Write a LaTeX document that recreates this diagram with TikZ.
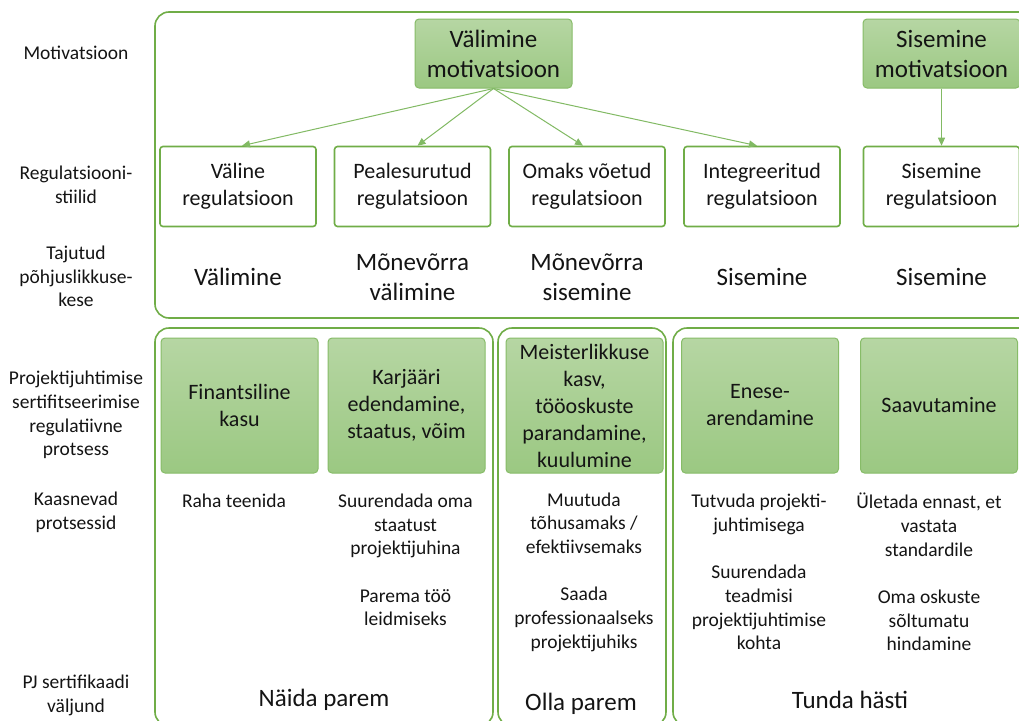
\documentclass[tikz,border=0pt]{standalone}
\usepackage{fontspec}
\setmainfont{Carlito}
\usetikzlibrary{arrows.meta}
\definecolor{gborder}{RGB}{112,173,71}
\definecolor{gtop}{RGB}{182,214,163}
\definecolor{gbot}{RGB}{155,200,130}
\definecolor{gbox}{RGB}{135,188,104}
\definecolor{garrow}{RGB}{130,186,100}
\definecolor{txt}{RGB}{20,20,20}
\begin{document}
\begin{tikzpicture}[x=1pt,y=-1pt,
  container/.style={draw=gborder, line width=1.6pt, rounded corners=14pt},
  regbox/.style={draw=gborder, line width=1.6pt, rounded corners=3pt, fill=white,
    minimum width=156pt, minimum height=80pt, inner sep=0pt, align=center,
    text=txt, font=\fontsize{22}{27}\selectfont},
  greenbox/.style={draw=gbox, line width=1pt, rounded corners=4pt, top color=gtop, bottom color=gbot,
    inner sep=0pt, align=center, text=txt},
  topgreen/.style={greenbox, minimum width=157pt, minimum height=69pt, font=\fontsize{25}{30}\selectfont},
  botgreen/.style={greenbox, minimum width=157pt, minimum height=135pt, font=\fontsize{22}{27}\selectfont},
  perc/.style={align=center, text=txt, inner sep=0pt, font=\fontsize{25}{30}\selectfont},
  body/.style={align=center, text=txt, inner sep=0pt, font=\fontsize{19.5}{23.7}\selectfont},
  sidelabel/.style={align=center, text=txt, inner sep=0pt, font=\fontsize{19.5}{23.7}\selectfont},
  outcome/.style={align=center, text=txt, inner sep=0pt, font=\fontsize{25}{30}\selectfont},
  conn/.style={draw=garrow, line width=1pt, -{Triangle[length=8pt,width=7pt]}}
]
\useasboundingbox (0,0) rectangle (1019,720);
\clip (0,0) rectangle (1019,720);
\fill[white] (0,0) rectangle (1019,720);

% containers
\draw[container] (155,12) rectangle (1040,318);
\draw[container] (155,328) rectangle (493,726);
\draw[container] (498,328) rectangle (666,726);
\draw[container] (673,328) rectangle (1040,726);

% side labels
\node[sidelabel] (l1) at (76,53) {Motivatsioon};
\node[sidelabel] (l2) at (76,185) {Regulatsiooni-\\stiilid};
\node[sidelabel] (l3) at (76,276.5) {Tajutud\\põhjuslikkuse-\\kese};
\node[sidelabel] (l4) at (76,415) {Projektijuhtimise\\sertifitseerimise\\regulatiivne\\protsess};
\node[sidelabel] (l5) at (76,512) {Kaasnevad\\protsessid};
\node[sidelabel] (l6) at (76,695.5) {PJ sertifikaadi\\väljund};

% motivation boxes
\node[topgreen] (vm) at (493.5,53.5) {Välimine\\motivatsioon};
\node[topgreen] (sm) at (941.5,53.5) {Sisemine\\motivatsioon};

% regulation boxes
\node[regbox] (r1) at (238,186.5) {Väline\\regulatsioon};
\node[regbox] (r2) at (412.5,186.5) {Pealesurutud\\regulatsioon};
\node[regbox] (r3) at (587,186.5) {Omaks võetud\\regulatsioon};
\node[regbox] (r4) at (762,186.5) {Integreeritud\\regulatsioon};
\node[regbox] (r5) at (941.5,186.5) {Sisemine\\regulatsioon};

% arrows
\draw[conn] (vm.south) -- ([xshift=4pt]r1.north);
\draw[conn] (vm.south) -- ([xshift=5pt]r2.north);
\draw[conn] (vm.south) -- ([xshift=-4pt]r3.north);
\draw[conn] (vm.south) -- ([xshift=-5pt]r4.north);
\draw[conn] (sm.south) -- (r5.north);

% perceived locus
\node[perc] (p1) at (238,277) {Välimine};
\node[perc] (p2) at (412.5,277) {Mõnevõrra\\välimine};
\node[perc] (p3) at (587,277) {Mõnevõrra\\sisemine};
\node[perc] (p4) at (762,277) {Sisemine};
\node[perc] (p5) at (941.5,277) {Sisemine};

% regulative process boxes
\node[botgreen] (g1) at (239.5,405.5) {Finantsiline\\kasu};
\node[botgreen] (g2) at (406.5,405.5) {Karjääri\\edendamine,\\staatus, võim};
\node[botgreen] (g3) at (584.5,405.5) {Meisterlikkuse\\kasv,\\tööoskuste\\parandamine,\\kuulumine};
\node[botgreen] (g4) at (760,405.5) {Enese-\\arendamine};
\node[botgreen] (g5) at (939,405.5) {Saavutamine};

% accompanying processes
\node[body] (c1) at (234,501) {Raha teenida};
\node[body] (c2) at (405.5,560) {Suurendada oma\\staatust\\projektijuhina\\[23.7pt]Parema töö\\leidmiseks};
\node[body] (c3) at (584,572) {Muutuda\\tõhusamaks /\\efektiivsemaks\\[23.7pt]Saada\\professionaalseks\\projektijuhiks};
\node[body] (c4) at (759,572) {Tutvuda projekti-\\juhtimisega\\[23.7pt]Suurendada\\teadmisi\\projektijuhtimise\\kohta};
\node[body] (c5) at (929,572) {Ületada ennast, et\\vastata\\standardile\\[23.7pt]Oma oskuste\\sõltumatu\\hindamine};

% outcomes
\node[outcome] (o1) at (324,700) {Näida parem};
\node[outcome] (o2) at (581,704) {Olla parem};
\node[outcome] (o3) at (850,700) {Tunda hästi};
\end{tikzpicture}
\end{document}
